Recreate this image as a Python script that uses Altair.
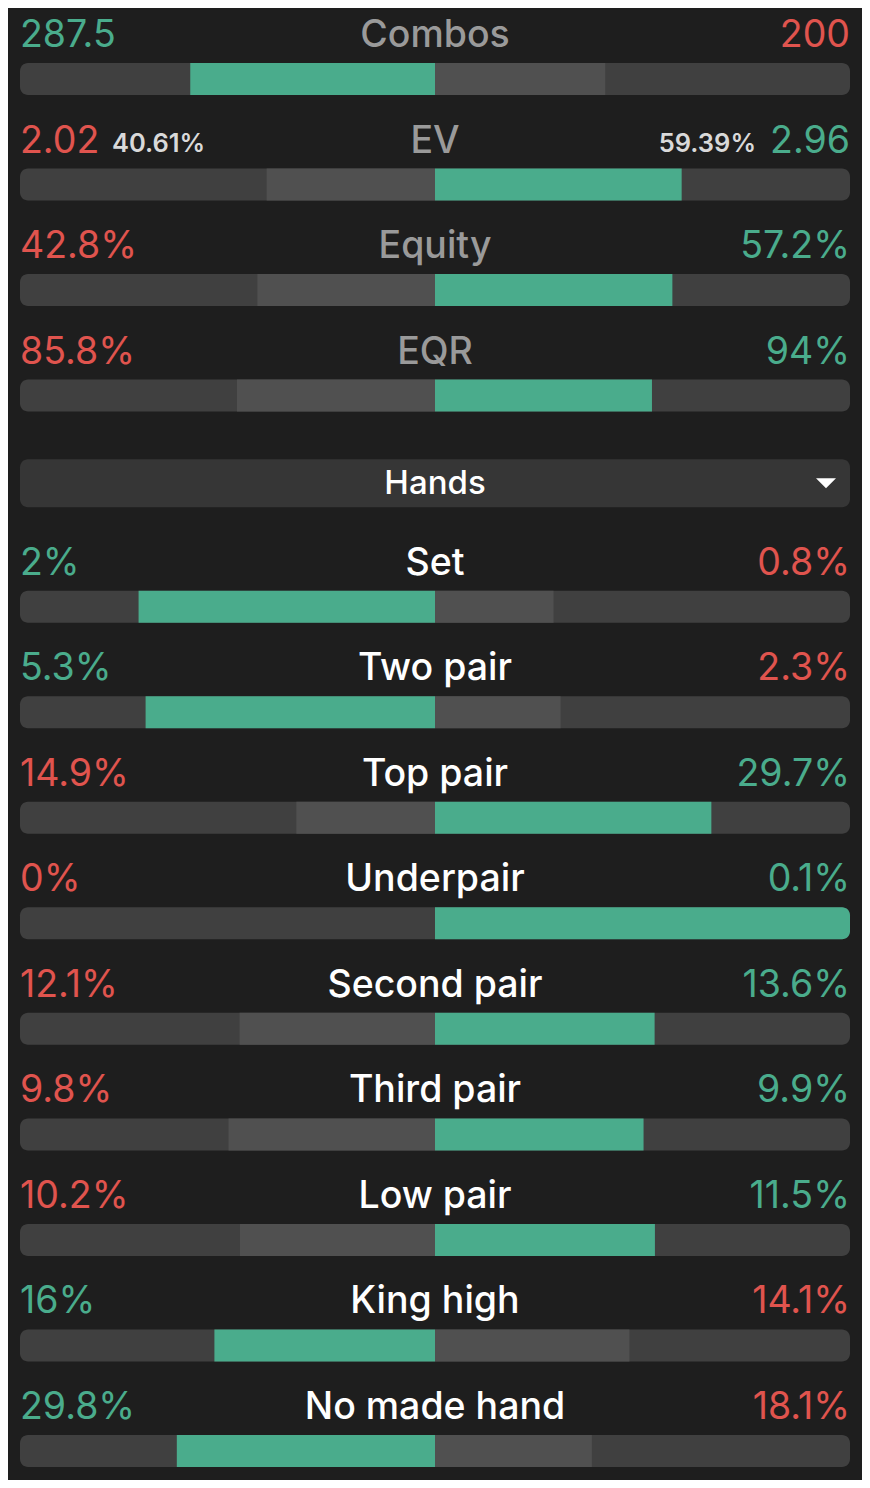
import altair as alt
import pandas as pd

# ---------------- data ----------------
labels = ["Combos", "EV", "Equity", "EQR", "Set", "Two pair", "Top pair", "Underpair",
          "Second pair", "Third pair", "Low pair", "King high", "No made hand"]
rows = [0, 1, 2, 3, 5, 6, 7, 8, 9, 10, 11, 12, 13]
left_vals = [287.5, 2.02, 42.8, 85.8, 2, 5.3, 14.9, 0, 12.1, 9.8, 10.2, 16, 29.8]
right_vals = [200, 2.96, 57.2, 94, 0.8, 2.3, 29.7, 0.1, 13.6, 9.9, 11.5, 14.1, 18.1]
left_text = ["287.5", "2.02", "42.8%", "85.8%", "2%", "5.3%", "14.9%", "0%",
             "12.1%", "9.8%", "10.2%", "16%", "29.8%"]
right_text = ["200", "2.96", "57.2%", "94%", "0.8%", "2.3%", "29.7%", "0.1%",
              "13.6%", "9.9%", "11.5%", "14.1%", "18.1%"]
sections = ["summary"] * 4 + ["hands"] * 9
ev_share_left = "40.61%"
ev_share_right = "59.39%"
ev_row = 1
dropdown_label = "Hands"
dropdown_row = 4

# ---------------- colours ----------------
GREEN = "#4aac8c"
RED = "#e0544e"
TRACK = "#404040"
LOSE_BAR = "#505050"
BG = "#1e1e1e"
FONT = "Inter"

# ---------------- tables ----------------
rec = []
seg = []
for lab, r, lv, rv, lt, rt, sec in zip(labels, rows, left_vals, right_vals,
                                        left_text, right_text, sections):
    tot = lv + rv
    ls, rs = lv / tot, rv / tot
    lstat = "win" if lv > rv else "lose"
    rstat = "win" if rv > lv else "lose"
    rec.append(dict(label=lab, row=r, ltxt=lt, rtxt=rt, section=sec,
                    lstat=lstat, rstat=rstat))
    seg.append(dict(row=r, side="left", a=-ls, b=0.0, share=ls, stat=lstat))
    seg.append(dict(row=r, side="right", a=0.0, b=rs, share=rs, stat=rstat))
df = pd.DataFrame(rec)
sdf = pd.DataFrame(seg)
ev_df = pd.DataFrame([dict(row=ev_row, side="left", txt=ev_share_left),
                      dict(row=ev_row, side="right", txt=ev_share_right)])
dd_df = pd.DataFrame([dict(row=dropdown_row, txt=dropdown_label)])

xs = alt.Scale(domain=[-1, 1], range=[12, 842])
ys = alt.Scale(domain=[0, 14], range=[0, 14 * 105.54])


def X(f):
    return alt.X(f, scale=xs, axis=None)


def Y(f):
    return alt.Y(f, scale=ys, axis=None)


base = alt.Chart(df)
sbase = alt.Chart(sdf)

track = base.mark_rect(cornerRadius=8, color=TRACK, yOffset=55, y2Offset=87).encode(
    x=alt.X(datum=-1, scale=xs, axis=None), x2=alt.X2(datum=1),
    y=Y("row:Q"), y2=alt.Y2("row:Q"))

seg_color = alt.Color("stat:N", scale=alt.Scale(domain=["win", "lose"],
                                                range=[GREEN, LOSE_BAR]), legend=None)
seg_partial = sbase.transform_filter("datum.share < 0.999").mark_rect(
    yOffset=55, y2Offset=87).encode(
    x=X("a:Q"), x2="b:Q", y=Y("row:Q"), y2=alt.Y2("row:Q"), color=seg_color)
seg_full_r = sbase.transform_filter("datum.share >= 0.999 && datum.side == 'right'").mark_rect(
    yOffset=55, y2Offset=87, cornerRadiusTopRight=8, cornerRadiusBottomRight=8).encode(
    x=X("a:Q"), x2="b:Q", y=Y("row:Q"), y2=alt.Y2("row:Q"), color=seg_color)
seg_full_l = sbase.transform_filter("datum.share >= 0.999 && datum.side == 'left'").mark_rect(
    yOffset=55, y2Offset=87, cornerRadiusTopLeft=8, cornerRadiusBottomLeft=8).encode(
    x=X("a:Q"), x2="b:Q", y=Y("row:Q"), y2=alt.Y2("row:Q"), color=seg_color)

txt_color_scale = alt.Scale(domain=["win", "lose"], range=[GREEN, RED])
left_txt = base.mark_text(align="left", baseline="alphabetic", dy=39, font=FONT,
                          fontSize=37.5, fontWeight=400).encode(
    x=alt.X(datum=-1, scale=xs, axis=None), y=Y("row:Q"), text="ltxt:N",
    color=alt.Color("lstat:N", scale=txt_color_scale, legend=None))
right_txt = base.mark_text(align="right", baseline="alphabetic", dy=39, font=FONT,
                           fontSize=37.5, fontWeight=400).encode(
    x=alt.X(datum=1, scale=xs, axis=None), y=Y("row:Q"), text="rtxt:N",
    color=alt.Color("rstat:N", scale=txt_color_scale, legend=None))
title_txt = base.mark_text(align="center", baseline="alphabetic", dy=39, font=FONT,
                           fontSize=37.5, fontWeight=500).encode(
    x=alt.X(datum=0, scale=xs, axis=None), y=Y("row:Q"), text="label:N",
    color=alt.Color("section:N", scale=alt.Scale(domain=["summary", "hands"],
                                                 range=["#9a9a9a", "#ffffff"]), legend=None))

ev_base = alt.Chart(ev_df)
ev_l = ev_base.transform_filter("datum.side == 'left'").mark_text(
    align="left", baseline="alphabetic", dy=38, dx=92, font=FONT, fontSize=25.5,
    fontWeight=600, color="#d9d9d9").encode(
    x=alt.X(datum=-1, scale=xs, axis=None), y=Y("row:Q"), text="txt:N")
ev_r = ev_base.transform_filter("datum.side == 'right'").mark_text(
    align="right", baseline="alphabetic", dy=38, dx=-94, font=FONT, fontSize=25.5,
    fontWeight=600, color="#d9d9d9").encode(
    x=alt.X(datum=1, scale=xs, axis=None), y=Y("row:Q"), text="txt:N")

dd_base = alt.Chart(dd_df)
dd_box = dd_base.mark_rect(cornerRadius=8, color="#363636", yOffset=29, y2Offset=77).encode(
    x=alt.X(datum=-1, scale=xs, axis=None), x2=alt.X2(datum=1),
    y=Y("row:Q"), y2=alt.Y2("row:Q"))
dd_txt = dd_base.mark_text(align="center", baseline="alphabetic", dy=64, font=FONT,
                           fontSize=33, fontWeight=500, color="#ffffff").encode(
    x=alt.X(datum=0, scale=xs, axis=None), y=Y("row:Q"), text="txt:N")
dd_caret = dd_base.mark_point(shape="M-1,-0.5L1,-0.5L0,0.5Z", filled=True, size=400,
                              color="#ffffff", opacity=1, xOffset=-24, yOffset=53).encode(
    x=alt.X(datum=1, scale=xs, axis=None), y=Y("row:Q"))

chart = alt.layer(
    track, seg_partial, seg_full_r, seg_full_l,
    left_txt, right_txt, title_txt, ev_l, ev_r,
    dd_box, dd_txt, dd_caret,
).resolve_scale(color="independent").properties(
    width=854, height=1472, background=BG, padding=0,
    autosize=alt.AutoSizeParams(type="none"),
).configure_view(stroke=None)

chart.save("out.html", embed_options={"renderer": "svg", "actions": False})
